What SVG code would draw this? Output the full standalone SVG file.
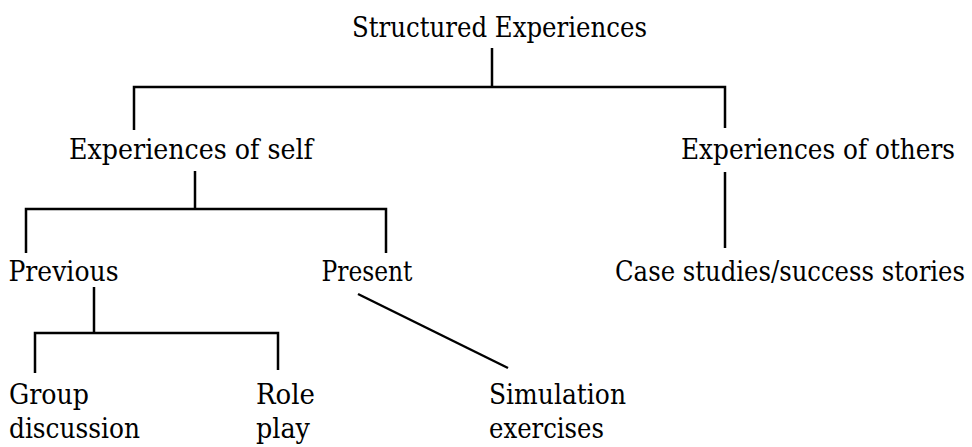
<svg xmlns="http://www.w3.org/2000/svg" width="972" height="447" viewBox="0 0 972 447">
<style>
.c line,.c path{stroke:#000;stroke-width:2.5;fill:none}
.t{font-family:"DejaVu Serif","Liberation Serif",serif;font-size:28px;fill:#000}
</style>
<rect width="972" height="447" fill="#fff"/>
<g class="c" id="connectors">
<line x1="492" y1="48" x2="492" y2="87"/>
<path d="M134,130 V87 H725 V128"/>
<line x1="195" y1="171" x2="195" y2="209"/>
<path d="M26,253 V209 H386 V253"/>
<line x1="725" y1="172" x2="725" y2="248"/>
<line x1="94" y1="287" x2="94" y2="333"/>
<path d="M35,373 V333 H278 V370"/>
<line x1="358" y1="294" x2="508" y2="368"/>
</g>
<g class="t">
<g id="root"><text x="352" y="37" textLength="295" lengthAdjust="spacingAndGlyphs">Structured Experiences</text></g>
<g id="self"><text x="69" y="159" textLength="244" lengthAdjust="spacingAndGlyphs">Experiences of self</text></g>
<g id="others"><text x="681" y="159" textLength="274" lengthAdjust="spacingAndGlyphs">Experiences of others</text></g>
<g id="previous"><text x="8.5" y="281" textLength="110" lengthAdjust="spacingAndGlyphs">Previous</text></g>
<g id="present"><text x="321.5" y="281" textLength="91" lengthAdjust="spacingAndGlyphs">Present</text></g>
<g id="cases"><text x="615" y="281" textLength="350" lengthAdjust="spacingAndGlyphs">Case studies/success stories</text></g>
<g id="group"><text x="9" y="404" textLength="80" lengthAdjust="spacingAndGlyphs">Group</text><text x="9" y="438" textLength="131" lengthAdjust="spacingAndGlyphs">discussion</text></g>
<g id="role"><text x="256" y="404" textLength="59" lengthAdjust="spacingAndGlyphs">Role</text><text x="256" y="438" textLength="54" lengthAdjust="spacingAndGlyphs">play</text></g>
<g id="simulation"><text x="489" y="404" textLength="137" lengthAdjust="spacingAndGlyphs">Simulation</text><text x="489" y="438" textLength="115" lengthAdjust="spacingAndGlyphs">exercises</text></g>
</g>
</svg>
